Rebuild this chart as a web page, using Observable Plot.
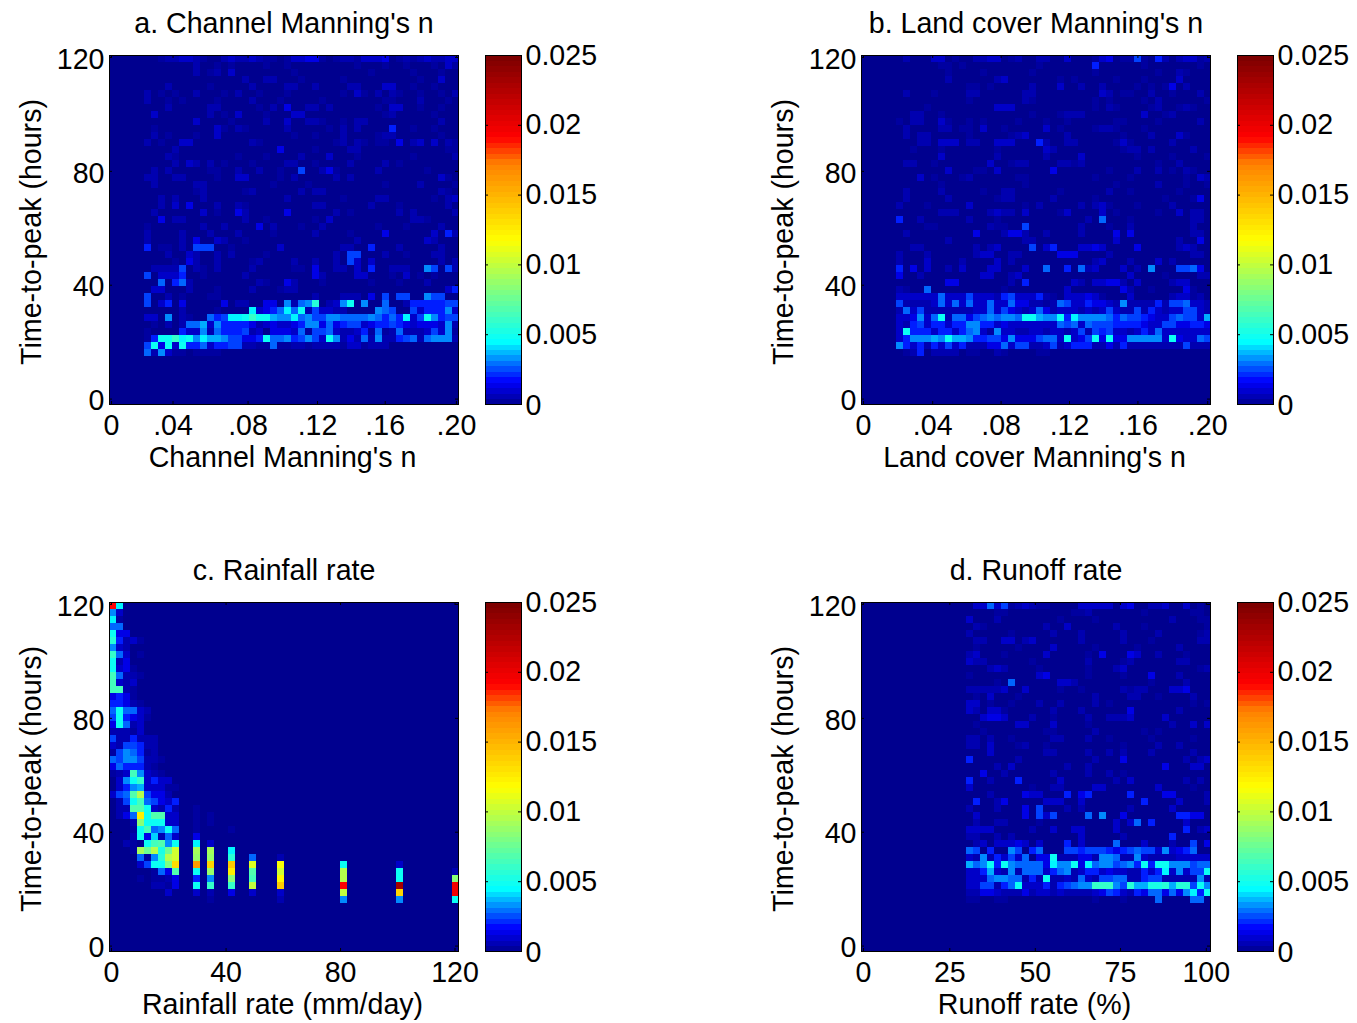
<!DOCTYPE html>
<html>
<head>
<meta charset="utf-8">
<style>
html,body{margin:0;padding:0;background:#fff;width:1357px;height:1023px;overflow:hidden}
#root{position:relative;width:1357px;height:1023px}
#root svg{position:absolute;overflow:visible;background:transparent}
</style>
<script src="https://cdn.jsdelivr.net/npm/d3@7"></script>
<script src="https://cdn.jsdelivr.net/npm/@observablehq/plot@0.6"></script>
</head>
<body>
<div id="root"></div>
<script>
// Each character is one cell: 0-4 are the faint levels in lowLevels, then steps of 0.0004 (5-9, a-z, A-Z).
// Rows run from 120 h (top) down. Rows left out at the bottom and cells left out at the right are zero.
const channelManningRows = [
"00000 00122 33210 02322 32110 13344 10122 13334 01212 32233",
"00000 00000 00200 10100 00100 10000 00000 10001 00100 01031",
"00000 00000 00201 20300 00000 01000 00000 00100 00010 00100",
"00000 00000 00000 00002 00220 00100 00010 00000 00001 00300",
"00000 00020 00001 00000 20000 22002 00002 20003 30010 01000",
"00000 20101 00200 01020 01000 10000 00010 31020 21001 00102",
"00000 20010 10000 10000 20001 00000 10000 00001 10002 00010",
"00000 00020 00002 20000 01020 40022 02000 00010 33001 00100",
"00000 03000 00002 01030 00100 03300 00000 00001 20000 01000",
"00000 00000 00300 00100 00200 30022 10010 22000 00000 00200",
"00000 01000 00000 31021 00000 20000 01020 20000 50010 01000",
"00000 02010 00100 30000 00000 01001 00020 00012 20000 00100",
"00000 20100 33000 00000 21000 00000 00120 21011 04023 03021",
"00000 00002 00000 00000 00004 00001 00002 20000 00000 00011",
"00000 00021 00000 00010 00100 00200 03000 10000 00010 00002",
"00000 00002 03202 01000 10000 22001 00002 00002 01000 00000",
"00000 02020 00001 10020 02001 00600 24100 00020 00000 10000",
"00000 22002 20000 10033 00001 02000 00202 00000 00000 00310",
"00000 02000 00220 00000 00010 00010 00000 00001 00002 00001",
"00000 00000 00120 00001 20000 00202 20000 00000 00000 00210",
"00000 00202 00020 00000 00000 20000 00010 00022 00000 01023",
"00000 00203 04000 20021 00000 00002 20000 00200 01000 00020",
"00000 02000 00030 10042 00000 40000 00201 00000 02020 00002",
"00000 00402 20000 00002 00100 00001 03000 00000 00022 10000",
"00000 10000 00020 02000 04020 00100 20000 00010 00100 00200",
"00000 20000 20002 00020 00010 00002 00001 00004 00000 03052",
"00000 20000 20400 32001 00000 00000 00000 20000 00000 32000",
"00000 50110 20666 00100 00003 00000 00022 00500 02000 00200",
"00000 00020 03200 20200 00100 00000 00206 60002 00100 02200",
"00000 00001 04200 20000 12000 02002 00206 30300 00000 00202",
"00000 02222 60210 20000 20000 01104 00220 30500 22200 86062",
"00000 60333 50010 00002 00000 00004 20000 33000 10301 01000",
"00000 00705 72000 00000 02100 42000 10000 00100 01000 20000",
"00000 03300 02000 10000 20001 22000 00000 00000 00000 00035",
"00000 60020 10001 10000 00000 00002 00022 20406 06600 86600",
"00000 60350 40000 04022 00440 8278e 0238c 08007 00255 55566",
"00000 00000 20000 10000 b3457 b7c26 33220 00087 60063 55583",
"00000 33080 21007 56bbc fcc98 8b786 68877 77875 75b36 c8566",
"00000 01020 27793 85555 42343 34588 47456 63455 65434 44382",
"00000 10000 53382 75556 23044 43716 67322 35171 27222 36381",
"00000 15ccf bc8b9 98664 45c77 85686 3c824 27282 25672 78882",
"00000 6c4c3 c5573 55662 21171 12212 22213 31222 00000 00000",
"00000 72831 10111 10000"
];
const landCoverRows = [
"00000 02000 33010 02233 01200 22003 00013 40116 10520 23312",
"00000 00000 01101 00000 00000 10000 00050 00000 10000 00010",
"00000 00000 00100 00100 00001 00000 00010 00000 00100 21000",
"00000 00000 00200 00002 30000 00010 10000 01000 10000 30000",
"00000 00000 00000 11010 00002 00030 02002 00001 01014 02000",
"00000 02000 10000 22000 00022 00000 00003 20110 02001 00020",
"00000 00000 00000 10000 00021 00000 00010 10000 10200 00001",
"00000 00001 00000 00003 33000 00000 00010 21000 01200 12100",
"00000 00220 01000 00000 00001 00012 22000 00000 30012 00000",
"00000 10220 03100 10100 00100 01001 00000 01100 00100 00020",
"00000 02000 02201 10300 10000 03010 00012 21000 10000 00000",
"00000 02022 00000 10000 01230 00002 00000 00100 02000 31000",
"00000 00022 03330 22003 33000 52002 20000 01310 00002 00000",
"00000 00100 01000 00001 00000 03200 00000 00122 02000 00200",
"00000 00000 03000 00002 00000 02000 03000 00001 00001 00001",
"00000 02200 10000 00030 01220 00022 12000 00000 00100 20000",
"00000 00000 00300 01103 00000 00400 00000 10002 00201 02100",
"00000 00030 10001 20000 00110 00000 00010 00010 00000 01032",
"00000 00000 01000 00000 00010 00000 00000 01000 00200 01001",
"00000 02000 02000 00100 22000 00010 00000 20010 00000 10000",
"00000 02000 00200 00001 22000 00200 00010 00000 00010 00140",
"00000 20001 00000 30000 00010 20000 02023 10001 00002 00000",
"00000 00000 02220 00023 22030 00013 00003 01000 00100 30220",
"00000 50020 00000 20001 00000 00000 00207 00010 00000 00220",
"00000 00001 10000 00021 10060 00000 02000 10020 00000 00200",
"00000 02000 00000 04000 24420 02000 02000 04040 00000 00220",
"00000 00000 00200 00000 00022 00000 00000 03000 00000 20040",
"00000 00220 00000 02023 00006 03500 03343 00004 00000 23200",
"00000 20002 00000 02330 02200 00044 40000 20000 00000 00220",
"00000 20003 00002 00003 02000 00000 00023 00020 00302 00000",
"00000 50403 00203 00033 00030 07005 07230 00302 08000 66740",
"00000 40020 00000 00330 02300 00000 00000 00030 00010 00022",
"00000 00000 00440 00000 02050 00000 32033 44203 00002 33000",
"00000 21007 00000 00000 10000 00003 00000 00420 01000 04100",
"00000 33333 37333 63332 56333 52103 33431 00030 00002 33120",
"00000 62222 37373 73373 37442 21276 33544 32822 22526 67332",
"00000 27362 22222 23373 64323 74233 32323 63226 25323 36632",
"00000 33483 7c277 46787 887cc 988c5 b8888 75766 54336 76639",
"00000 32563 55355 88553 43333 33376 73766 65555 43366 44554",
"00000 3c555 35535 78318 33223 32332 36265 63323 53733 33333",
"00000 35888 98c99 85566 48444 6773c 346c4 c4488 8883c 43376",
"00000 85352 53635 22244 73662 23623 55522 42522 22222 26222",
"00000 01250 22220 11002 10000 11000"
];
const rainfallRows = [
"Mb", "83", "b1", "77", "c44", "e5231", "832", "f7301", "c24", "c341",
"g7221", "g323", "gg21", "4541", "55421", "7c773 2", "6c543 1", "4c723", "22213", "62252 22",
"32665 22", "16875 12", "76886 221", "47555 21", "123g8 321", "038cf 3533", "03589 33311",
"367ho 64420", "026cg 76435",
"022hh c3252 00100",
"0247v chh33 00101",
"0002l ccc33 00101",
"0001c g78c7 00100 00100",
"0002c 4a273 00400",
"00210 cgh8c 00b03",
"0001n jodjq 00n0n 00b00",
"00007 18eoq 00m0m 00e00 70002",
"00003 6cckx 00E0y 00z00 r000t 00000 000c0 00000 03000",
"00000 0174h 00c0m 00v00 h000q 00000 000o0 00000 0c000 00002",
"00001 01124 00508 00l00 g000u 00000 000o0 00000 0c000 0000l",
"00000 02214 00c0f 00f00 p000z 00000 000M0 00000 0W000 0000N",
"00000 00030 00302 00400 30003 00000 000p0 00000 0y000 0000N",
"00000 00000 00001 00000 00002 00000 00080 00000 08000 0000c"
];
const runoffRows = [
"00000 00000 00000 03373 61232 11000 03333 30340 02230 03010",
"00000 00000 00000 00001 10000 00000 11200 00000 10000 00110",
"00000 00000 00000 30002 00000 00010 00010 00000 00002 00011",
"00000 00000 00000 02100 00000 02003 00000 02000 10000 00001",
"00000 00000 00000 20000 01000 00200 02000 00200 00200 00012",
"00000 00000 00000 02200 33023 00000 02000 00200 01000 00022",
"00000 00000 00000 01000 00100 00300 00010 00001 00000 20000",
"00000 00000 00000 23000 10000 03000 00104 00043 00200 01000",
"00000 00000 00000 32200 00001 00000 00200 00120 00000 22000",
"00000 00000 00000 00023 20000 10000 00100 02300 00000 00012",
"00000 00000 00000 10000 00000 34000 00100 00100 04000 20000",
"00000 00000 00000 00001 07000 00033 20000 00000 01000 02000",
"00000 00000 00000 22222 30030 00010 01000 00212 20003 34000",
"00000 00000 00000 01030 00100 00000 00020 00022 00100 00200",
"00000 00000 00000 33010 01000 20020 00020 10000 00000 00101",
"00000 00000 00000 32033 10000 00200 02000 00040 00000 20000",
"00000 00000 00000 00344 30002 00100 00200 22230 00030 00000",
"00000 00000 00000 01000 00330 00300 00100 00000 00002 00303",
"00000 00000 00000 00100 00000 01100 00020 00000 10100 00000",
"00000 00000 00000 22020 01000 00220 00200 10000 01000 00100",
"00000 00000 00000 22030 00120 01000 00000 00100 00200 20000",
"00000 00000 00000 00030 00000 02200 00200 20200 02000 00200",
"00000 00000 00000 50000 00200 00000 00020 00400 00000 02023",
"00000 00000 00000 00002 03000 00002 00200 00000 00040 00330",
"00000 00000 00000 00400 20000 00200 00200 20100 00000 00000",
"00000 00000 00000 50020 00500 00030 00000 02030 00000 02020",
"00000 00000 00000 30000 00001 00220 00033 00000 00300 00100",
"00000 00000 00000 00020 00043 30005 04500 00050 00044 00002",
"00000 00000 00000 05002 40000 03330 03000 00000 50000 30002",
"00000 00000 00000 20002 00040 60002 02000 00020 00003 00000",
"00000 00000 00000 03000 00040 63600 00708 00400 00000 55440",
"00000 00000 00000 02002 20000 10000 00000 03037 05000 03000",
"00000 00000 00000 33330 00002 00300 33000 03000 00000 05023",
"00000 00000 00000 22002 02000 00000 03000 00200 00005 00000",
"00000 00000 00000 02303 33430 30005 03000 07000 30002 00604",
"00000 00000 00000 76050 08605 70006 65666 54567 66383 45700",
"00000 00000 00000 32825 36370 44c22 24428 87228 32222 33333",
"00000 00000 00000 978c5 c8777 74b88 c4b78 86785 c5cc8 88677",
"00000 00000 00000 33593 28277 73578 23553 43322 535b3 8366c",
"00000 00000 00000 33378 87725 2c223 27326 67722 56622 22282",
"00000 00000 00000 33662 57c33 35256 788ff f86e9 9dde9 ee6c8",
"00000 00000 00000 22443 22242 33232 22234 65325 47747 48b5c",
"00000 00000 00000 11001 10000 00000 00010 00100 00700 00770"
];

const hourTicks = [0, 40, 80, 120];
const barTicks = [0, 0.005, 0.01, 0.015, 0.02, 0.025];
const barLabels = ["0", "0.005", "0.01", "0.015", "0.02", "0.025"];
const channelBins = [0.29, 9.1, 19.85, 29.8, 39.5, 49.7];
const landBins = [0.29, 10.2, 20, 29.8, 39.6, 49.6];
const manningLabels = ["0", ".04", ".08", ".12", ".16", ".20"];
const rainBins = [0.29, 16.7, 33.1, 49.5];
const rainLabels = ["0", "40", "80", "120"];
const runoffBins = [0.29, 12.65, 24.9, 37.1, 49.4];
const runoffLabels = ["0", "25", "50", "75", "100"];

const levelChars = "0123456789abcdefghijklmnopqrstuvwxyzABCDEFGHIJKLMNOPQRSTUVWXYZ";
const lowLevels = [0, 0.00025, 0.0005, 0.00085, 0.0013];
const levelStep = 0.0004;
const nBins = 50;

const colorStops = [0, 0.067, 0.18, 0.325, 0.47, 0.69, 0.765, 1].map(f => f * 0.025);
const colorRange = ["#00008f", "#0000ff", "#00ffff", "#80ff80", "#ffff00", "#ff8000", "#ff0000", "#7a0000"];
const colorOpts = {type: "linear", domain: colorStops, range: colorRange, clamp: true};

const FONT = "'Liberation Sans', Arial, Helvetica, sans-serif";
const FONT_SIZE = "28.6px";
const root = document.getElementById("root");

function flatten(rows) {
  const out = [];
  for (let r = 0; r < nBins; r++) {
    const s = (rows[r] || "").replace(/ /g, "").padEnd(nBins, "0");
    for (let c = 0; c < nBins; c++) {
      const i = levelChars.indexOf(s[c]);
      out.push(i < lowLevels.length ? lowLevels[i] : i * levelStep);
    }
  }
  return out;
}

function place(svg, left, top) {
  svg.style.left = left + "px";
  svg.style.top = top + "px";
  root.appendChild(svg);
}

function panel({rows, bins, labels, title, xLabel, left, top}) {
  const names = new Map(bins.map((b, i) => [b, labels[i]]));
  const W = 500, H = 476, mL = 109, mT = 55, S = 349;
  const yTop = 120.7, yBot = -1.9;
  const svg = Plot.plot({
    width: W, height: H,
    marginLeft: mL, marginTop: mT, marginRight: W - mL - S, marginBottom: H - mT - S,
    style: {fontFamily: FONT, fontSize: FONT_SIZE, color: "#000", background: "transparent", overflow: "visible"},
    x: {domain: [0, nBins], axis: null},
    y: {domain: [yBot, yTop], axis: null},
    color: colorOpts,
    marks: [
      Plot.raster(flatten(rows), {
        width: nBins, height: nBins,
        x1: 0, x2: nBins, y1: yTop, y2: yBot,
        fill: d => d, imageRendering: "pixelated"
      }),
      Plot.tickX(bins, {x: d => d, stroke: "#000", insetTop: S - 3}),
      Plot.tickX(bins, {x: d => d, stroke: "#000", insetBottom: S - 3}),
      Plot.tickY(hourTicks, {y: d => d, stroke: "#000", insetRight: S - 3}),
      Plot.tickY(hourTicks, {y: d => d, stroke: "#000", insetLeft: S - 3}),
      Plot.frame({stroke: "#000"}),
      Plot.axisX(bins, {
        anchor: "bottom", tickSize: 0, tickPadding: 10,
        tickFormat: d => names.get(d), label: null, stroke: "none"
      }),
      Plot.axisY(hourTicks, {
        anchor: "left", tickSize: 0, tickPadding: 5, dy: 2, label: null, stroke: "none"
      }),
      Plot.text([xLabel], {text: d => d, frameAnchor: "bottom", dy: 53, dx: -1.5, lineAnchor: "middle", fill: "#000"}),
      Plot.text(["Time-to-peak (hours)"], {text: d => d, frameAnchor: "left", dx: -78, dy: 2, rotate: -90, lineAnchor: "middle", textAnchor: "middle", fill: "#000"}),
      Plot.text([title], {text: d => d, frameAnchor: "top", dy: -32, lineAnchor: "middle", fill: "#000"})
    ]
  });
  place(svg, left, top);

  const bW = 36, mB = 15;
  const bands = d3.range(64).map(i => (63.5 - i) / 64 * 0.025);
  const barNames = new Map(barTicks.map((b, i) => [b, barLabels[i]]));
  const bar = Plot.plot({
    width: 135, height: H,
    marginLeft: mB, marginRight: 135 - mB - bW, marginTop: mT, marginBottom: H - mT - S,
    style: {fontFamily: FONT, fontSize: FONT_SIZE, color: "#000", background: "transparent", overflow: "visible"},
    x: {domain: [0, 1], axis: null},
    y: {domain: [0, 0.025], axis: null},
    color: colorOpts,
    marks: [
      Plot.raster(bands, {width: 1, height: 64, x1: 0, x2: 1, y1: 0.025, y2: 0, fill: d => d, imageRendering: "pixelated"}),
      Plot.tickY(barTicks.slice(1, 5), {y: d => d, stroke: "#000", insetRight: bW - 3}),
      Plot.tickY(barTicks.slice(1, 5), {y: d => d, stroke: "#000", insetLeft: bW - 3}),
      Plot.frame({stroke: "#000"}),
      Plot.axisY(barTicks.slice(1), {anchor: "right", tickSize: 0, tickPadding: 4, tickFormat: d => barNames.get(d), label: null, stroke: "none"}),
      Plot.text([0], {y: d => d, x: 1, text: () => barLabels[0], dx: 4, dy: 1, textAnchor: "start", lineAnchor: "middle", fill: "#000"})
    ]
  });
  place(bar, left + 485 - mB, top);
}

panel({rows: channelManningRows, bins: channelBins, labels: manningLabels, title: "a. Channel Manning's n", xLabel: "Channel Manning's n", left: 0, top: 0});
panel({rows: landCoverRows, bins: landBins, labels: manningLabels, title: "b. Land cover Manning's n", xLabel: "Land cover Manning's n", left: 752, top: 0});
panel({rows: rainfallRows, bins: rainBins, labels: rainLabels, title: "c. Rainfall rate", xLabel: "Rainfall rate (mm/day)", left: 0, top: 547});
panel({rows: runoffRows, bins: runoffBins, labels: runoffLabels, title: "d. Runoff rate", xLabel: "Runoff rate (%)", left: 752, top: 547});
</script>
</body>
</html>
